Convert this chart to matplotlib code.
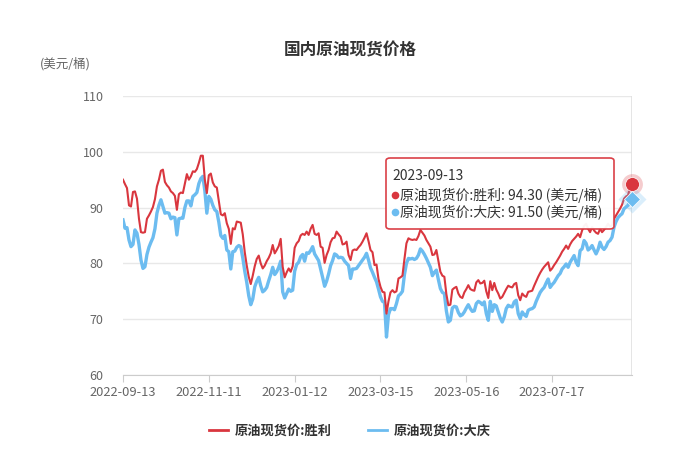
import matplotlib
matplotlib.use("Agg")
import matplotlib.pyplot as plt
from matplotlib.patches import FancyBboxPatch
from matplotlib.lines import Line2D

plt.rcParams['font.family'] = ['Noto Sans CJK SC', 'DejaVu Sans']

tick_labels = ["2022-09-13", "2022-11-11", "2023-01-12", "2023-03-15", "2023-05-16", "2023-07-17"]
tick_step = 43
last_date = "2023-09-13"

shengli = [
    95.0, 94.2, 93.5, 90.4, 90.2, 92.8, 92.9, 91.6, 88.0, 85.6,
    85.5, 85.6, 88.0, 88.6, 89.3, 90.1, 91.5, 93.8, 95.0, 96.6,
    96.8, 94.6, 94.0, 93.6, 92.9, 92.6, 92.1, 89.6, 92.4, 92.7,
    92.6, 94.3, 96.0, 95.0, 95.6, 96.5, 96.4, 96.9, 98.0, 99.3,
    99.3, 95.0, 92.6, 95.8, 96.1, 94.5, 93.8, 93.6, 91.2, 88.8,
    88.6, 89.0, 87.2, 86.2, 83.5, 86.3, 86.1, 87.5, 87.4, 87.3,
    85.2, 82.0, 79.6, 77.6, 76.3, 77.8, 79.5, 80.8, 81.4, 80.0,
    79.1, 79.6, 80.4, 81.0, 81.8, 83.3, 81.8, 82.4, 83.1, 84.4,
    79.4, 77.5, 78.4, 79.1, 78.5, 79.5, 82.8, 83.6, 84.0, 85.0,
    85.3, 85.1, 85.7, 85.1, 86.2, 86.9, 85.3, 85.1, 85.4, 83.0,
    82.8, 80.1, 81.5, 82.4, 83.8, 84.5, 84.6, 85.7, 85.2, 84.8,
    83.4, 83.5, 83.9, 81.5, 80.6, 82.3, 82.5, 82.4, 82.9, 83.3,
    83.9, 84.6, 85.4, 84.0, 82.4, 82.0, 79.7, 79.8, 77.2, 75.8,
    74.9, 74.8, 71.0, 73.2, 74.8, 75.2, 74.8, 75.0, 77.3, 77.5,
    77.8, 80.8, 83.6, 84.5, 84.3, 84.2, 84.3, 84.2, 84.9, 86.0,
    85.5, 85.0, 84.2, 83.6, 83.0, 81.5, 81.6, 82.4, 80.4, 78.5,
    77.8, 77.6, 74.5, 72.5, 72.6, 75.3, 75.6, 75.8, 74.6, 74.0,
    73.8, 74.8, 75.4, 76.1, 75.4, 75.2, 75.1, 76.6, 77.0, 76.4,
    76.5, 76.9, 75.0, 73.8, 76.8, 75.2, 76.5, 75.3, 74.6, 73.7,
    74.0, 74.7, 75.4, 76.0, 75.8, 75.7, 76.3, 76.5, 74.3, 73.4,
    74.6, 74.2, 74.0, 74.9, 75.0, 75.1, 76.0, 76.8, 77.6, 78.3,
    78.9, 79.4, 79.8, 80.2, 78.7, 79.1, 79.7, 80.2, 80.8, 81.4,
    82.1, 82.6, 83.2, 82.6, 83.4, 84.0, 84.4, 84.8, 85.3, 84.7,
    85.9, 86.7, 87.1, 86.2, 85.6, 86.5, 85.9, 85.5, 85.3, 86.2,
    85.6, 86.0, 86.5, 87.1, 86.6, 86.8, 88.0, 88.6, 89.2, 89.8,
    90.5, 91.6, 92.0, 92.2, 93.5, 94.3,
]

daqing = [
    87.8, 86.3, 86.4, 84.2, 83.0, 83.4, 86.0, 85.4, 83.4, 80.6,
    79.1, 79.4, 81.6, 82.9, 83.8, 84.6, 86.2, 89.0, 90.4, 91.4,
    90.2, 89.0, 89.1, 89.0, 88.0, 88.3, 88.2, 85.1, 88.0, 88.1,
    88.1, 90.0, 91.2, 91.2, 90.3, 92.0, 92.3, 92.7, 94.3, 95.2,
    95.6, 93.0, 89.0, 92.0, 91.5, 90.4, 89.6, 89.3, 87.4, 85.0,
    84.5, 85.0, 82.4, 82.1, 79.0, 82.1, 82.2, 82.9, 83.2, 83.0,
    81.0, 78.6, 76.6, 74.2, 72.6, 73.6, 75.8, 76.8, 77.5, 76.0,
    74.9, 75.2, 75.7, 76.9, 78.0, 79.3, 78.0, 78.5, 79.3, 80.4,
    74.9, 73.8, 74.6, 75.4, 75.0, 75.2, 78.6, 79.8, 80.2, 81.2,
    81.6, 80.4, 81.9, 81.8, 82.3, 83.0, 81.7, 81.1, 80.5, 79.0,
    77.5, 75.9, 76.8, 78.1, 79.6, 80.5, 81.7, 81.5, 81.0, 81.1,
    81.0, 80.4, 80.0, 79.6, 77.3, 79.0, 79.0, 79.1, 79.6, 80.1,
    80.6, 81.1, 81.8, 80.6, 79.2, 78.4, 77.5, 76.7, 75.4, 74.0,
    73.2, 73.0, 66.8, 70.8, 71.9, 71.9, 71.7, 72.8, 74.2, 74.5,
    75.0, 78.0, 80.0, 80.9, 80.8, 80.9, 80.7, 80.9, 81.5, 82.6,
    82.2, 81.6, 80.9, 80.1, 79.3, 77.8, 78.4, 78.8, 77.1, 75.5,
    74.8, 74.6, 71.5, 69.5, 69.8, 72.0, 72.3, 72.2, 71.2, 70.6,
    70.8, 71.3, 72.0, 72.6, 71.9, 71.4, 71.5, 72.8, 73.2, 73.0,
    72.6, 73.1, 71.0, 69.8, 73.2, 71.4, 72.6, 72.4, 71.3, 70.2,
    69.5, 70.4, 71.9, 72.5, 72.3, 72.2, 73.1, 73.4, 71.0, 70.1,
    71.3, 70.8, 70.5, 71.6, 71.8, 71.9, 72.2, 73.2, 74.0, 74.8,
    75.3, 75.7, 76.5, 77.2, 75.7, 76.2, 76.6, 77.2, 77.8, 78.2,
    79.0, 79.4, 79.9, 79.3, 80.2, 80.8, 81.4, 80.2, 79.6, 82.3,
    82.6, 84.1, 83.6, 82.4, 82.7, 83.2, 82.4, 81.7, 82.5, 83.8,
    82.9, 82.5, 83.0, 83.8, 84.1, 84.7, 86.5, 87.5, 88.2, 88.6,
    88.9, 89.8, 90.1, 90.4, 91.2, 91.5,
]

name_a = "原油现货价:胜利"
name_b = "原油现货价:大庆"
unit = "(美元/桶)"
title = "国内原油现货价格"

RED = "#d9363e"
BLUE = "#6cbcf0"

W, H = 700, 463
fig = plt.figure(figsize=(W / 100, H / 100), dpi=100)
ax = fig.add_axes([123 / W, 1 - 375 / H, (632 - 123) / W, (375 - 96) / H])

x = list(range(len(shengli)))
ax.plot(x, daqing, color=BLUE, lw=2.4, solid_joinstyle='round', zorder=3)
ax.plot(x, shengli, color=RED, lw=1.5, solid_joinstyle='round', zorder=4)

n = len(shengli)
ax.set_xlim(0, n - 1)
ax.set_ylim(60, 110)
ax.set_yticks([60, 70, 80, 90, 100, 110])
ax.set_xticks([i * tick_step for i in range(len(tick_labels))])
ax.set_xticklabels(tick_labels)
ax.grid(axis='y', color='#e8e8e8', lw=1)
ax.set_axisbelow(True)
for s in ['top', 'right', 'left']:
    ax.spines[s].set_visible(False)
ax.spines['bottom'].set_color('#cccccc')
ax.tick_params(axis='y', length=0, labelsize=9, colors='#666666', pad=14)
ax.tick_params(axis='x', length=5, color='#cccccc', labelsize=9.3, labelcolor='#666666', pad=3)

# axis pointer at the hovered (last) point
ax.axvline(n - 1, color='#e0e0e0', lw=1.2, zorder=2)

# end markers with halos
ax.plot([n - 1], [shengli[-1]], 'o', ms=15, color=RED, alpha=0.25, mec='none', zorder=6, clip_on=False)
ax.plot([n - 1], [shengli[-1]], 'o', ms=10, color=RED, mec='white', mew=0.5, zorder=7, clip_on=False)
ax.plot([n - 1], [daqing[-1]], 'D', ms=14, color=BLUE, alpha=0.25, mec='none', zorder=6, clip_on=False)
ax.plot([n - 1], [daqing[-1]], 'D', ms=8, color=BLUE, mec='white', mew=0.5, zorder=7, clip_on=False)

# title and unit
fig.text(350 / W, 1 - 50 / H, title, ha='center', va='center', fontsize=12, fontweight='bold', color='#333333')
fig.text(40 / W, 1 - 64 / H, unit, ha='left', va='center', fontsize=9, color='#666666')

# tooltip
bx0, by0, bx1, by1 = 386, 158, 614, 229
box = FancyBboxPatch((bx0 / W, 1 - by1 / H), (bx1 - bx0) / W, (by1 - by0) / H,
                     boxstyle="round,pad=0,rounding_size=0.006", transform=fig.transFigure,
                     facecolor='white', edgecolor=RED, lw=1.2, alpha=0.95, zorder=10)
fig.add_artist(box)
fig.text(392 / W, 1 - 176 / H, last_date, ha='left', va='center', fontsize=10, fontweight='medium',
         color='#333333', zorder=11)
for yy, col in ((195, RED), (212, BLUE)):
    fig.add_artist(Line2D([395 / W], [1 - yy / H], marker='o', ms=5.5, color=col, mec='none',
                          transform=fig.transFigure, zorder=11))
fig.text(400 / W, 1 - 195 / H, f"{name_a}: {shengli[-1]:.2f} {unit}", ha='left', va='center',
         fontsize=10, color='#333333', zorder=11)
fig.text(400 / W, 1 - 212 / H, f"{name_b}: {daqing[-1]:.2f} {unit}", ha='left', va='center',
         fontsize=10, color='#333333', zorder=11)

# legend
handles = [Line2D([], [], color=RED, lw=2), Line2D([], [], color=BLUE, lw=2)]
leg = fig.legend(handles, [name_a, name_b], loc='center', bbox_to_anchor=(0.5, 1 - 431 / H), ncol=2,
                 frameon=False, handlelength=1.4, handletextpad=0.5, columnspacing=2.8,
                 prop={'size': 9.5, 'weight': 'bold'})
for t in leg.get_texts():
    t.set_color('#333333')

fig.savefig("out.png", dpi=100)
